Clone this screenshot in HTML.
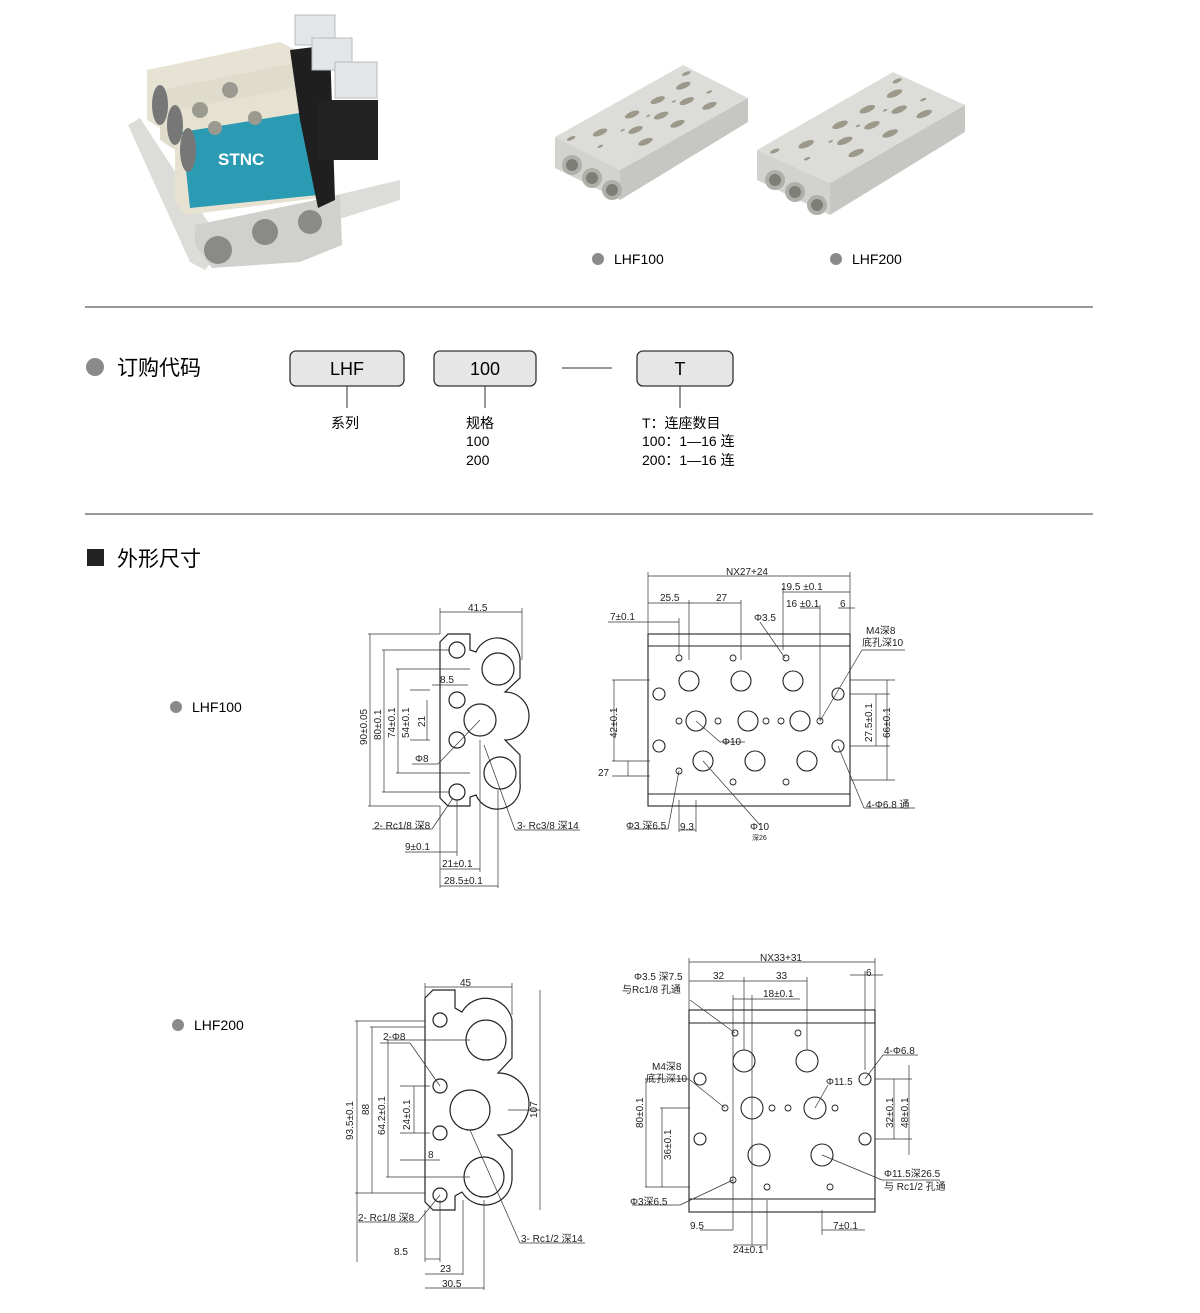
<!DOCTYPE html>
<html><head><meta charset="utf-8"><style>
html,body{margin:0;padding:0;background:#fff}
body{width:1200px;height:1313px;position:relative;overflow:hidden;font-family:"Liberation Sans","Noto Sans CJK SC",sans-serif;color:#222}
svg{position:absolute;left:0;top:0}
</style></head><body>
<svg width="1200" height="1313" viewBox="0 0 1200 1313" xmlns="http://www.w3.org/2000/svg" font-family="Liberation Sans, Noto Sans CJK SC, sans-serif">
<defs>
<g id="holes">
<circle cx="0.2" cy="0.3" r="0.05"/><circle cx="0.35" cy="0.55" r="0.05"/><circle cx="0.45" cy="0.3" r="0.05"/>
<circle cx="0.55" cy="0.55" r="0.05"/><circle cx="0.65" cy="0.3" r="0.05"/><circle cx="0.75" cy="0.55" r="0.05"/>
<circle cx="0.85" cy="0.3" r="0.05"/><circle cx="0.3" cy="0.8" r="0.05"/><circle cx="0.55" cy="0.8" r="0.05"/><circle cx="0.8" cy="0.8" r="0.05"/>
<circle cx="0.1" cy="0.5" r="0.02"/><circle cx="0.3" cy="0.45" r="0.015"/><circle cx="0.5" cy="0.45" r="0.015"/><circle cx="0.7" cy="0.45" r="0.015"/>
<circle cx="0.9" cy="0.6" r="0.02"/><circle cx="0.05" cy="0.15" r="0.03"/><circle cx="0.95" cy="0.15" r="0.03"/>
</g>
</defs>
<!-- valve photo -->
<g>
<polygon points="128,125 140,118 210,225 400,180 400,200 215,258 205,270 190,262" fill="#dcdcd9"/>
<polygon points="195,225 340,195 342,245 300,262 212,268 195,245" fill="#d0d0cc"/>
<circle cx="218" cy="250" r="14" fill="#8a8a86"/><circle cx="265" cy="232" r="13" fill="#8a8a86"/><circle cx="310" cy="222" r="12" fill="#8a8a86"/>
<polygon points="147,70 280,42 312,58 312,125 180,140 147,120" fill="#e6e2d4"/>
<polygon points="160,90 295,63 325,80 325,145 190,160 160,140" fill="#e0dccc"/>
<polygon points="175,110 310,85 318,100 318,198 185,215 175,200" fill="#e6e1d0"/>
<polygon points="182,132 318,110 318,195 190,208" fill="#2b9ab3"/>
<text x="218" y="165" font-size="17" font-weight="bold" fill="#fff">STNC</text>
<polygon points="290,50 330,45 335,200 318,208 300,120" fill="#1f1f1f"/>
<rect x="318" y="100" width="60" height="60" fill="#222"/>
<rect x="295" y="15" width="40" height="30" fill="#e2e6e8" stroke="#bbb"/>
<rect x="312" y="38" width="40" height="32" fill="#e2e6e8" stroke="#bbb"/>
<rect x="335" y="62" width="42" height="36" fill="#e2e6e8" stroke="#bbb"/>
<circle cx="200" cy="110" r="8" fill="#9a9a90"/><circle cx="230" cy="90" r="8" fill="#9a9a90"/>
<circle cx="215" cy="128" r="7" fill="#9a9a90"/><circle cx="255" cy="118" r="7" fill="#9a9a90"/>
<ellipse cx="160" cy="105" rx="8" ry="20" fill="#777"/><ellipse cx="175" cy="125" rx="8" ry="20" fill="#777"/><ellipse cx="188" cy="150" rx="8" ry="22" fill="#777"/>
</g>
<!-- manifold 100 -->
<g>
<polygon points="620,170 748,98 748,122 620,200" fill="#c6c6c2"/>
<polygon points="555,137 620,170 620,200 555,168" fill="#d2d2ce"/>
<polygon points="555,137 683,65 748,98 620,170" fill="#dcdcd8"/>
<g transform="matrix(128,-72,65,33,555,137)" fill="#9c988a"><use href="#holes"/></g>
<circle cx="572" cy="165" r="10" fill="#b0b0aa"/><circle cx="592" cy="178" r="10" fill="#b0b0aa"/><circle cx="612" cy="190" r="10" fill="#b0b0aa"/>
<circle cx="572" cy="165" r="6" fill="#7e7e78"/><circle cx="592" cy="178" r="6" fill="#7e7e78"/><circle cx="612" cy="190" r="6" fill="#7e7e78"/>
</g>
<g>
<polygon points="830,183 965,105 965,132 830,215" fill="#c6c6c2"/>
<polygon points="757,150 830,183 830,215 757,180" fill="#d2d2ce"/>
<polygon points="757,150 893,72 965,105 830,183" fill="#dcdcd8"/>
<g transform="matrix(136,-78,73,33,757,150)" fill="#9c988a"><use href="#holes"/></g>
<circle cx="775" cy="180" r="10" fill="#b0b0aa"/><circle cx="795" cy="192" r="10" fill="#b0b0aa"/><circle cx="817" cy="205" r="10" fill="#b0b0aa"/>
<circle cx="775" cy="180" r="6" fill="#7e7e78"/><circle cx="795" cy="192" r="6" fill="#7e7e78"/><circle cx="817" cy="205" r="6" fill="#7e7e78"/>
</g>
<g fill="#8a8a8a"><circle cx="598" cy="259" r="6"/><circle cx="836" cy="259" r="6"/></g>
<text x="614" y="264" font-size="14">LHF100</text><text x="852" y="264" font-size="14">LHF200</text>
<line x1="85" y1="307" x2="1093" y2="307" stroke="#333"/>
<circle cx="95" cy="367" r="9" fill="#8a8a8a"/>
<text x="117" y="375" font-size="21">订购代码</text>
<g fill="#e6e6e6" stroke="#333" stroke-width="1.3">
<rect x="290" y="351" width="114" height="35" rx="6"/><rect x="434" y="351" width="102" height="35" rx="6"/><rect x="637" y="351" width="96" height="35" rx="6"/></g>
<g font-size="18" text-anchor="middle"><text x="347" y="375">LHF</text><text x="485" y="375">100</text><text x="680" y="375">T</text></g>
<g stroke="#333"><line x1="562" y1="368" x2="612" y2="368"/><line x1="347" y1="386" x2="347" y2="408"/><line x1="485" y1="386" x2="485" y2="408"/><line x1="680" y1="386" x2="680" y2="408"/></g>
<g font-size="14"><text x="331" y="428">系列</text><text x="466" y="428">规格</text><text x="466" y="446">100</text><text x="466" y="465">200</text>
<text x="642" y="428">T：连座数目</text><text x="642" y="446">100：1—16 连</text><text x="642" y="465">200：1—16 连</text></g>
<line x1="85" y1="514" x2="1093" y2="514" stroke="#333"/>
<rect x="87" y="549" width="17" height="17" fill="#222"/>
<text x="117" y="566" font-size="21">外形尺寸</text>
<g fill="#8a8a8a"><circle cx="176" cy="707" r="6"/><circle cx="178" cy="1025" r="6"/></g>
<text x="192" y="712" font-size="14">LHF100</text><text x="194" y="1030" font-size="14">LHF200</text>

<!-- LHF100 side -->
<g fill="none" stroke="#222" stroke-width="1.2">
<path d="M448,634 L470,634 L470,650 L476,652 A23,23 0 0 1 520,658 L520,678 L505,692 A18,18 0 0 1 505,740 L520,755 L520,783 A23,23 0 0 1 476,795 L470,797 L470,806 L448,806 L440,798 L440,642 Z"/>
<circle cx="457" cy="650" r="8"/><circle cx="498" cy="669" r="16"/><circle cx="457" cy="700" r="8"/><circle cx="480" cy="720" r="16"/><circle cx="457" cy="740" r="8"/><circle cx="500" cy="773" r="16"/><circle cx="457" cy="792" r="8"/>
</g>
<g stroke="#333" stroke-width="0.7" fill="none">
<line x1="440" y1="612" x2="522" y2="612"/><line x1="440" y1="608" x2="440" y2="634"/><line x1="522" y1="608" x2="522" y2="660"/>
<line x1="368" y1="634" x2="440" y2="634"/><line x1="368" y1="806" x2="440" y2="806"/><line x1="370" y1="634" x2="370" y2="806"/>
<line x1="382" y1="650" x2="450" y2="650"/><line x1="382" y1="792" x2="450" y2="792"/><line x1="384" y1="650" x2="384" y2="792"/>
<line x1="396" y1="669" x2="470" y2="669"/><line x1="396" y1="773" x2="470" y2="773"/><line x1="398" y1="669" x2="398" y2="773"/>
<line x1="410" y1="690" x2="430" y2="690"/><line x1="410" y1="740" x2="430" y2="740"/><line x1="427" y1="700" x2="427" y2="740"/>
<line x1="432" y1="685" x2="468" y2="685"/>
<line x1="457" y1="800" x2="457" y2="856"/><line x1="480" y1="740" x2="480" y2="872"/><line x1="498" y1="790" x2="498" y2="888"/><line x1="440" y1="806" x2="440" y2="888"/>
<line x1="405" y1="852" x2="457" y2="852"/><line x1="440" y1="869" x2="480" y2="869"/><line x1="440" y1="886" x2="498" y2="886"/>
<line x1="372" y1="829" x2="432" y2="829"/><line x1="432" y1="829" x2="453" y2="798"/>
<line x1="412" y1="764" x2="438" y2="764"/><line x1="438" y1="764" x2="480" y2="720"/>
<line x1="515" y1="830" x2="580" y2="830"/><line x1="515" y1="830" x2="484" y2="745"/>
</g>
<g font-size="10" fill="#222">
<text x="468" y="611">41.5</text><text x="440" y="683">8.5</text><text x="415" y="762">Φ8</text>
<text x="374" y="829">2- Rc1/8  深8</text><text x="517" y="829">3- Rc3/8 深14</text>
<text x="405" y="850">9±0.1</text><text x="442" y="867">21±0.1</text><text x="444" y="884">28.5±0.1</text>
<text transform="translate(367,745) rotate(-90)">90±0.05</text><text transform="translate(381,740) rotate(-90)">80±0.1</text>
<text transform="translate(395,738) rotate(-90)">74±0.1</text><text transform="translate(409,738) rotate(-90)">54±0.1</text>
<text transform="translate(425,727) rotate(-90)">21</text>
</g>
<!-- LHF100 front -->
<g fill="none" stroke="#222" stroke-width="1.1">
<rect x="648" y="634" width="202" height="172"/><line x1="648" y1="646" x2="850" y2="646"/><line x1="648" y1="794" x2="850" y2="794"/>
<circle cx="689" cy="681" r="10"/><circle cx="741" cy="681" r="10"/><circle cx="793" cy="681" r="10"/>
<circle cx="696" cy="721" r="10"/><circle cx="748" cy="721" r="10"/><circle cx="800" cy="721" r="10"/>
<circle cx="703" cy="761" r="10"/><circle cx="755" cy="761" r="10"/><circle cx="807" cy="761" r="10"/>
<circle cx="659" cy="694" r="6"/><circle cx="659" cy="746" r="6"/><circle cx="838" cy="694" r="6"/><circle cx="838" cy="746" r="6"/>
<g stroke-width="0.9"><circle cx="679" cy="658" r="3"/><circle cx="733" cy="658" r="3"/><circle cx="786" cy="658" r="3"/>
<circle cx="679" cy="721" r="3"/><circle cx="718" cy="721" r="3"/><circle cx="766" cy="721" r="3"/><circle cx="781" cy="721" r="3"/><circle cx="820" cy="721" r="3"/>
<circle cx="679" cy="771" r="3"/><circle cx="733" cy="782" r="3"/><circle cx="786" cy="782" r="3"/></g>
</g>
<g stroke="#333" stroke-width="0.7" fill="none">
<line x1="648" y1="576" x2="850" y2="576"/><line x1="648" y1="572" x2="648" y2="634"/><line x1="850" y1="572" x2="850" y2="634"/>
<line x1="648" y1="603" x2="741" y2="603"/><line x1="689" y1="600" x2="689" y2="660"/><line x1="741" y1="600" x2="741" y2="660"/>
<line x1="783" y1="592" x2="850" y2="592"/><line x1="783" y1="588" x2="783" y2="650"/><line x1="800" y1="608" x2="820" y2="608"/><line x1="820" y1="605" x2="820" y2="720"/><line x1="838" y1="608" x2="855" y2="608"/>
<line x1="608" y1="622" x2="679" y2="622"/><line x1="679" y1="618" x2="679" y2="655"/>
<line x1="612" y1="680" x2="650" y2="680"/><line x1="612" y1="761" x2="650" y2="761"/><line x1="614" y1="680" x2="614" y2="761"/>
<line x1="612" y1="776" x2="650" y2="776"/><line x1="628" y1="761" x2="628" y2="776"/>
<line x1="850" y1="694" x2="890" y2="694"/><line x1="850" y1="746" x2="890" y2="746"/><line x1="876" y1="694" x2="876" y2="746"/><line x1="887" y1="680" x2="887" y2="780"/><line x1="850" y1="680" x2="895" y2="680"/><line x1="850" y1="780" x2="895" y2="780"/>
<line x1="627" y1="829" x2="668" y2="829"/><line x1="668" y1="829" x2="679" y2="771"/><line x1="679" y1="800" x2="679" y2="832"/><line x1="696" y1="800" x2="696" y2="832"/><line x1="679" y1="830" x2="696" y2="830"/>
<line x1="760" y1="825" x2="703" y2="761"/><line x1="720" y1="742" x2="745" y2="742"/><line x1="720" y1="742" x2="696" y2="721"/>
<line x1="864" y1="808" x2="915" y2="808"/><line x1="864" y1="808" x2="838" y2="746"/>
<line x1="862" y1="650" x2="905" y2="650"/><line x1="862" y1="650" x2="820" y2="721"/><line x1="760" y1="622" x2="785" y2="658"/>
</g>
<g font-size="10" fill="#222">
<text x="726" y="575">NX27+24</text><text x="660" y="601">25.5</text><text x="716" y="601">27</text><text x="781" y="590">19.5 ±0.1</text><text x="786" y="607">16 ±0.1</text><text x="840" y="607">6</text>
<text x="610" y="620">7±0.1</text><text x="754" y="621">Φ3.5</text><text x="866" y="634">M4深8</text><text x="862" y="646">底孔深10</text>
<text x="722" y="745">Φ10</text><text x="598" y="776">27</text><text x="626" y="829">Φ3 深6.5</text><text x="680" y="830">9.3</text><text x="750" y="830">Φ10</text><text x="752" y="840" font-size="7">深26</text>
<text x="866" y="808">4-Φ6.8 通</text>
<text transform="translate(617,738) rotate(-90)">42±0.1</text><text transform="translate(872,742) rotate(-90)">27.5±0.1</text><text transform="translate(890,738) rotate(-90)">66±0.1</text>
</g>

<!-- LHF200 side -->
<g fill="none" stroke="#222" stroke-width="1.2">
<path d="M433,990 L455,990 L455,1008 L462,1012 A27,27 0 0 1 512,1020 L512,1058 L498,1073 A22,22 0 0 1 498,1135 L512,1150 L512,1180 A27,27 0 0 1 462,1192 L455,1196 L455,1210 L433,1210 L425,1202 L425,998 Z"/>
<circle cx="440" cy="1020" r="7"/><circle cx="486" cy="1040" r="20"/><circle cx="440" cy="1086" r="7"/><circle cx="470" cy="1110" r="20"/><circle cx="440" cy="1133" r="7"/><circle cx="484" cy="1177" r="20"/><circle cx="440" cy="1195" r="7"/>
</g>
<g stroke="#333" stroke-width="0.7" fill="none">
<line x1="425" y1="987" x2="512" y2="987"/><line x1="425" y1="983" x2="425" y2="1000"/><line x1="512" y1="983" x2="512" y2="1015"/>
<line x1="355" y1="1021" x2="425" y2="1021"/><line x1="355" y1="1193" x2="425" y2="1193"/><line x1="357" y1="1021" x2="357" y2="1262"/>
<line x1="370" y1="1027" x2="425" y2="1027"/><line x1="372" y1="1027" x2="372" y2="1193"/>
<line x1="386" y1="1040" x2="470" y2="1040"/><line x1="386" y1="1177" x2="470" y2="1177"/><line x1="388" y1="1040" x2="388" y2="1177"/>
<line x1="400" y1="1086" x2="430" y2="1086"/><line x1="400" y1="1133" x2="430" y2="1133"/><line x1="414" y1="1086" x2="414" y2="1133"/>
<line x1="508" y1="1110" x2="540" y2="1110"/><line x1="540" y1="990" x2="540" y2="1210"/>
<line x1="425" y1="1210" x2="425" y2="1262"/><line x1="440" y1="1200" x2="440" y2="1262"/><line x1="463" y1="1200" x2="463" y2="1275"/><line x1="484" y1="1200" x2="484" y2="1290"/>
<line x1="425" y1="1259" x2="440" y2="1259"/><line x1="425" y1="1274" x2="463" y2="1274"/><line x1="425" y1="1288" x2="484" y2="1288"/>
<line x1="380" y1="1043" x2="410" y2="1043"/><line x1="410" y1="1043" x2="440" y2="1086"/>
<line x1="358" y1="1222" x2="418" y2="1222"/><line x1="418" y1="1222" x2="440" y2="1195"/>
<line x1="520" y1="1243" x2="585" y2="1243"/><line x1="520" y1="1243" x2="470" y2="1130"/>
<line x1="400" y1="1160" x2="440" y2="1160"/>
</g>
<g font-size="10" fill="#222">
<text x="460" y="986">45</text><text x="383" y="1040">2-Φ8</text><text x="428" y="1158">8</text>
<text x="358" y="1221">2- Rc1/8 深8</text><text x="521" y="1242">3- Rc1/2 深14</text>
<text x="394" y="1255">8.5</text><text x="440" y="1272">23</text><text x="442" y="1287">30.5</text>
<text transform="translate(353,1140) rotate(-90)">93.5±0.1</text><text transform="translate(369,1115) rotate(-90)">88</text>
<text transform="translate(385,1135) rotate(-90)">64.2±0.1</text><text transform="translate(410,1130) rotate(-90)">24±0.1</text>
<text transform="translate(537,1118) rotate(-90)">107</text>
</g>
<!-- LHF200 front -->
<g fill="none" stroke="#222" stroke-width="1.1">
<rect x="689" y="1010" width="186" height="202"/><line x1="689" y1="1023" x2="875" y2="1023"/><line x1="689" y1="1199" x2="875" y2="1199"/>
<circle cx="744" cy="1061" r="11"/><circle cx="807" cy="1061" r="11"/><circle cx="752" cy="1108" r="11"/><circle cx="815" cy="1108" r="11"/><circle cx="759" cy="1155" r="11"/><circle cx="822" cy="1155" r="11"/>
<circle cx="700" cy="1079" r="6"/><circle cx="700" cy="1139" r="6"/><circle cx="865" cy="1079" r="6"/><circle cx="865" cy="1139" r="6"/>
<g stroke-width="0.9"><circle cx="735" cy="1033" r="3"/><circle cx="798" cy="1033" r="3"/><circle cx="725" cy="1108" r="3"/><circle cx="772" cy="1108" r="3"/><circle cx="788" cy="1108" r="3"/><circle cx="835" cy="1108" r="3"/><circle cx="733" cy="1180" r="3"/><circle cx="767" cy="1187" r="3"/><circle cx="830" cy="1187" r="3"/></g>
</g>
<g stroke="#333" stroke-width="0.7" fill="none">
<line x1="689" y1="962" x2="875" y2="962"/><line x1="689" y1="958" x2="689" y2="1010"/><line x1="875" y1="958" x2="875" y2="1010"/>
<line x1="689" y1="981" x2="807" y2="981"/><line x1="744" y1="977" x2="744" y2="1050"/><line x1="807" y1="977" x2="807" y2="1050"/>
<line x1="733" y1="999" x2="800" y2="999"/><line x1="733" y1="995" x2="733" y2="1230"/><line x1="752" y1="995" x2="752" y2="1245"/>
<line x1="850" y1="975" x2="883" y2="975"/><line x1="865" y1="971" x2="865" y2="1070"/>
<line x1="645" y1="1079" x2="690" y2="1079"/><line x1="645" y1="1187" x2="690" y2="1187"/><line x1="646" y1="1079" x2="646" y2="1187"/>
<line x1="660" y1="1108" x2="690" y2="1108"/><line x1="662" y1="1108" x2="662" y2="1187"/>
<line x1="875" y1="1079" x2="912" y2="1079"/><line x1="875" y1="1139" x2="912" y2="1139"/><line x1="894" y1="1079" x2="894" y2="1139"/><line x1="909" y1="1065" x2="909" y2="1155"/>
<line x1="700" y1="1230" x2="733" y2="1230"/><line x1="733" y1="1245" x2="767" y2="1245"/><line x1="767" y1="1200" x2="767" y2="1250"/>
<line x1="822" y1="1230" x2="865" y2="1230"/><line x1="822" y1="1210" x2="822" y2="1235"/>
<line x1="690" y1="1000" x2="735" y2="1033"/><line x1="690" y1="1080" x2="725" y2="1108"/><line x1="828" y1="1085" x2="815" y2="1108"/>
<line x1="883" y1="1055" x2="918" y2="1055"/><line x1="883" y1="1055" x2="865" y2="1079"/>
<line x1="632" y1="1205" x2="680" y2="1205"/><line x1="680" y1="1205" x2="733" y2="1180"/>
<line x1="882" y1="1180" x2="940" y2="1180"/><line x1="882" y1="1180" x2="822" y2="1155"/>
</g>
<g font-size="10" fill="#222">
<text x="760" y="961">NX33+31</text><text x="713" y="979">32</text><text x="776" y="979">33</text><text x="866" y="976">6</text><text x="763" y="997">18±0.1</text>
<text x="634" y="980">Φ3.5 深7.5</text><text x="622" y="993">与Rc1/8 孔通</text>
<text x="652" y="1070">M4深8</text><text x="646" y="1082">底孔深10</text><text x="826" y="1085">Φ11.5</text><text x="884" y="1054">4-Φ6.8</text>
<text x="630" y="1205">Φ3深6.5</text><text x="884" y="1177">Φ11.5深26.5</text><text x="884" y="1190">与 Rc1/2 孔通</text>
<text x="690" y="1229">9.5</text><text x="733" y="1253">24±0.1</text><text x="833" y="1229">7±0.1</text>
<text transform="translate(643,1128) rotate(-90)">80±0.1</text><text transform="translate(671,1160) rotate(-90)">36±0.1</text>
<text transform="translate(893,1128) rotate(-90)">32±0.1</text><text transform="translate(908,1128) rotate(-90)">48±0.1</text>
</g>
</svg>
</body></html>
